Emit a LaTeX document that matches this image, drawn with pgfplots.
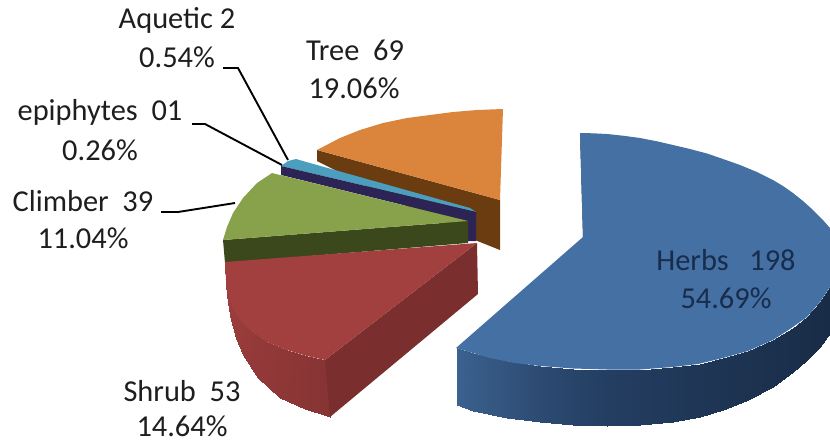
\documentclass[border=0pt]{standalone}
\usepackage{fontspec}
\setmainfont{Carlito}
\usepackage{pgfplots}
\pgfplotsset{compat=1.18}

\definecolor{blueTop}{RGB}{69,112,163}
\definecolor{blueIn}{RGB}{24,44,76}
\definecolor{redTop}{RGB}{162,64,64}
\definecolor{redIn}{RGB}{122,46,46}
\definecolor{greenTop}{RGB}{135,162,75}
\definecolor{greenSide}{RGB}{58,72,28}
\definecolor{orangeTop}{RGB}{219,133,60}
\definecolor{orangeSide}{RGB}{106,60,16}
\definecolor{navySide}{RGB}{44,36,84}
\definecolor{tealTop}{RGB}{76,158,190}
\definecolor{txt}{RGB}{30,30,30}

\pgfplotsset{
  colormap={blueside}{rgb255=(60,98,144) rgb255=(36,62,98) rgb255=(24,44,70)},
  colormap={redside}{rgb255=(160,62,62) rgb255=(135,52,52)},
}
\tikzset{lab/.style={font=\fontsize{30.5}{30.5}\selectfont, text=txt, inner sep=0pt, anchor=center}}

\begin{document}
\begin{tikzpicture}
\useasboundingbox (0,0) rectangle (830bp,440bp);
\begin{axis}[
  scale only axis, width=830bp, height=440bp,
  xmin=0, xmax=830, ymin=0, ymax=440, y dir=reverse,
  hide axis, point meta min=0, point meta max=1,
  clip mode=individual,
]
% orange slice
\addplot[fill=orangeSide, draw=none] coordinates {(317,150) (500,200) (500,250) (470,238) (317,161)} --cycle;
\addplot[fill=orangeTop, draw=none] coordinates {(317,150) (340,138) (360,130) (383,123) (407,118) (430,115) (453,112) (477,110) (503,109) (500,200)} --cycle;
% aquatic and epiphytes
\addplot[fill=tealTop, draw=none] coordinates {(281,166) (288,161) (296,159) (317,165) (470,208) (476,212)} --cycle;
\addplot[fill=navySide, draw=none] coordinates {(281,166) (476,212) (476,241) (468,241) (468,221) (281,175)} --cycle;
% climber
\addplot[fill=greenSide, draw=none] coordinates {(223,240) (468,221) (468,243) (225,263)} --cycle;
\addplot[fill=greenTop, draw=none] coordinates {(272,173) (280,175) (468,221) (223,240) (227,227) (233,213) (243,198) (257,183)} --cycle;
% shrub
\addplot[surf, shader=interp, colormap name=redside, mesh/rows=2, point meta=explicit] table[meta=c] {
x y c
225 262 0
226 280 0.05
228 293 0.1
233 308 0.2
240 320 0.3
250 330 0.4
267 342 0.55
287 350 0.7
307 356 0.85
325 360 1
225 262 0
226 285 0.05
228 303 0.1
231 320 0.2
236 338 0.3
243 355 0.4
258 378 0.55
280 398 0.7
305 409 0.85
330 417 1
};
\addplot[fill=redIn, draw=none] coordinates {(477,243) (478,294) (330,417) (325,360)} --cycle;
\addplot[fill=redTop, draw=none] coordinates {(225,262) (477,243) (325,360) (307,356) (287,350) (267,342) (250,330) (240,320) (233,308) (228,293) (226,280)} --cycle;
% herbs
\addplot[surf, shader=interp, colormap name=blueside, mesh/rows=2, point meta=explicit] table[meta=c] {
x y c
457 348 0
473 353 0.08
507 361 0.2
540 366 0.32
573 368.5 0.42
607 369.5 0.5
640 369.5 0.58
673 367 0.66
700 363.5 0.72
723 358 0.77
748 351 0.82
773 340 0.87
793 328 0.91
807 317 0.95
820 302 0.98
830 287 1
457 405 0
473 411 0.08
507 418 0.2
540 422 0.32
573 425 0.42
607 426 0.5
640 425 0.58
673 422 0.66
700 417 0.72
723 410 0.77
748 400 0.82
773 387 0.87
793 372 0.91
807 360 0.95
820 347 0.98
830 333 1
};
\addplot[fill=blueIn, draw=none] coordinates {(580,133) (583,237) (588,234)} --cycle;
\addplot[fill=blueTop, draw=none] coordinates {(580,133) (593,133.3) (607,134) (623,135.7) (640,138) (657,141.3) (673,145) (690,149) (707,153.5) (723,159) (740,165) (757,172) (773,180) (783,186) (793,193) (803,201) (813,210) (822,219) (830,228) (830,287) (820,302) (807,317) (790,329) (773,340) (748,351) (723,358) (698,364) (673,367) (640,369.5) (607,369.5) (573,368.5) (540,366) (515,363) (490,358) (473,353) (456,348) (583,237)} --cycle;
% leader lines
\addplot[black, line width=1.9pt] coordinates {(223,68) (238,68) (288,160)};
\addplot[black, line width=1.9pt] coordinates {(192,124) (205,124) (282,165)};
\addplot[black, line width=1.9pt] coordinates {(161,212) (178,212) (235,203)};
% labels
\node[lab] at (axis cs:177,20) {Aquetic 2};
\node[lab] at (axis cs:177,57) {0.54\%};
\node[lab] at (axis cs:355,50) {Tree\ \ 69};
\node[lab] at (axis cs:354,88) {19.06\%};
\node[lab] at (axis cs:100,112) {epiphytes\ \ 01};
\node[lab] at (axis cs:100,150) {0.26\%};
\node[lab] at (axis cs:83,201) {Climber\ \ 39};
\node[lab] at (axis cs:83,238) {11.04\%};
\node[lab, text=blueIn] at (axis cs:726,260) {Herbs\ \ \ 198};
\node[lab, text=blueIn] at (axis cs:726,298) {54.69\%};
\node[lab] at (axis cs:182,391) {Shrub\ \ 53};
\node[lab] at (axis cs:182,426) {14.64\%};
\end{axis}
\end{tikzpicture}
\end{document}
